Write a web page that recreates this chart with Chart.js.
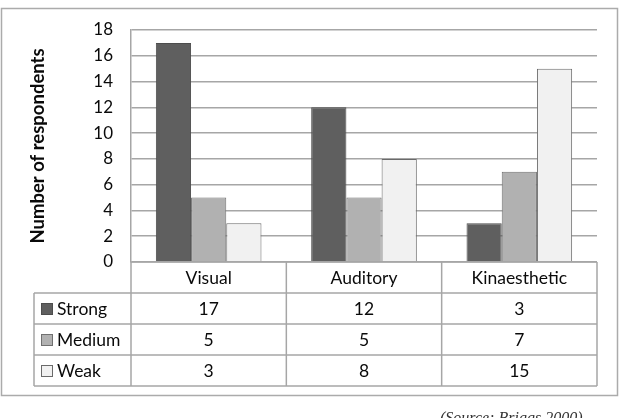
<!DOCTYPE html>
<html>
<head>
<meta charset="utf-8">
<script src="https://cdn.jsdelivr.net/npm/chart.js@4/dist/chart.umd.min.js"></script>
<style>
  html, body { margin: 0; padding: 0; background: #fff; }
  #wrap { width: 621px; height: 418px; position: relative; }
</style>
</head>
<body>
<div id="wrap"><canvas id="myChart" width="621" height="418"></canvas></div>
<script>
var categories = ["Visual", "Auditory", "Kinaesthetic"];
var seriesNames = ["Strong", "Medium", "Weak"];
var strongValues = [17, 12, 3];
var mediumValues = [5, 5, 7];
var weakValues = [3, 8, 15];
var yTicks = [0, 2, 4, 6, 8, 10, 12, 14, 16, 18];

var fills = ["#5f5f5f", "#b1b1b1", "#f1f1f1"];
var borders = ["#4d4d4d", "#707070", "#6a6a6a"];
var gridColor = "#a6a6a6";
var fontName = "Lato, 'Open Sans', sans-serif";

// draws the outer frame, the data table under the plot and the source note
var tablePlugin = {
    id: "dataTable",
    beforeDraw: function (chart) {
        var ctx = chart.ctx;
        ctx.save();
        ctx.fillStyle = "#fff";
        ctx.fillRect(0, 0, chart.width, chart.height);
        ctx.strokeStyle = "#ababab";
        ctx.lineWidth = 1.5;
        ctx.strokeRect(1.5, 8.5, 616, 387);
        ctx.restore();
    },
    afterDraw: function (chart) {
        var ctx = chart.ctx;
        var area = chart.chartArea;
        var x = chart.scales.x;
        var rowH = 31;
        var top = area.bottom;
        var labelLeft = 34;
        var step = (area.right - area.left) / categories.length;
        var rows = [strongValues, mediumValues, weakValues];

        ctx.save();
        ctx.strokeStyle = gridColor;
        ctx.lineWidth = 1.5;

        // category header row
        ctx.beginPath();
        ctx.moveTo(area.left, top);
        ctx.lineTo(area.right, top);
        for (var r = 1; r <= 4; r++) {
            ctx.moveTo(labelLeft, top + r * rowH);
            ctx.lineTo(area.right, top + r * rowH);
        }
        ctx.moveTo(labelLeft, top + rowH);
        ctx.lineTo(labelLeft, top + 4 * rowH);
        for (var c = 0; c <= categories.length; c++) {
            var cx = area.left + c * step;
            ctx.moveTo(cx, top);
            ctx.lineTo(cx, top + 4 * rowH);
        }
        ctx.stroke();

        ctx.fillStyle = "#0a0a0a";
        ctx.font = "17.5px " + fontName;
        ctx.textAlign = "center";
        ctx.textBaseline = "middle";
        categories.forEach(function (cat, i) {
            ctx.fillText(cat, x.getPixelForValue(i), top + rowH / 2 + 1);
        });

        rows.forEach(function (vals, s) {
            var cy = top + (s + 1) * rowH + rowH / 2 + 1;
            ctx.fillStyle = fills[s];
            ctx.fillRect(41, cy - 6.5, 12, 12);
            ctx.strokeStyle = borders[s];
            ctx.lineWidth = 1;
            ctx.strokeRect(41.5, cy - 6, 11, 11);
            ctx.fillStyle = "#0a0a0a";
            ctx.textAlign = "left";
            ctx.fillText(seriesNames[s], 57, cy);
            ctx.textAlign = "center";
            vals.forEach(function (v, i) {
                ctx.fillText(String(v), x.getPixelForValue(i), cy);
            });
        });

        ctx.font = "italic 16px 'Liberation Serif', 'DejaVu Serif', serif";
        ctx.textAlign = "left";
        ctx.textBaseline = "alphabetic";
        ctx.fillStyle = "#333";
        ctx.fillText("(Source: Briggs 2000)", 440, 423);
        ctx.restore();
    }
};

var ctx = document.getElementById("myChart").getContext("2d");
var myChart = new Chart(ctx, {
    type: "bar",
    data: {
        labels: categories,
        datasets: [
            { label: seriesNames[0], data: strongValues, backgroundColor: fills[0], borderColor: borders[0], borderWidth: 1 },
            { label: seriesNames[1], data: mediumValues, backgroundColor: fills[1], borderColor: borders[1], borderWidth: 1 },
            { label: seriesNames[2], data: weakValues, backgroundColor: fills[2], borderColor: borders[2], borderWidth: 1 }
        ]
    },
    options: {
        responsive: false,
        animation: false,
        layout: { padding: { left: 20, top: 30, right: 24, bottom: 156 } },
        datasets: { bar: { categoryPercentage: 0.68, barPercentage: 1 } },
        plugins: {
            legend: { display: false },
            tooltip: { enabled: false }
        },
        scales: {
            x: {
                grid: { display: false, drawTicks: false },
                border: { display: false },
                ticks: { display: false }
            },
            y: {
                min: 0,
                max: 18,
                afterFit: function (scale) { scale.width = 111; },
                afterBuildTicks: function (scale) {
                    scale.ticks = yTicks.map(function (v) { return { value: v }; });
                },
                grid: { color: gridColor, lineWidth: 1.5, drawTicks: false },
                border: { display: true, color: gridColor, width: 1.5 },
                ticks: {
                    padding: 18,
                    color: "#0a0a0a",
                    font: { family: fontName, size: 17 }
                },
                title: {
                    display: true,
                    text: "Number of respondents",
                    color: "#0a0a0a",
                    font: { family: fontName, size: 18.5, weight: "bold" },
                    padding: { top: 7, bottom: 0 }
                }
            }
        }
    },
    plugins: [tablePlugin]
});
</script>
</body>
</html>
